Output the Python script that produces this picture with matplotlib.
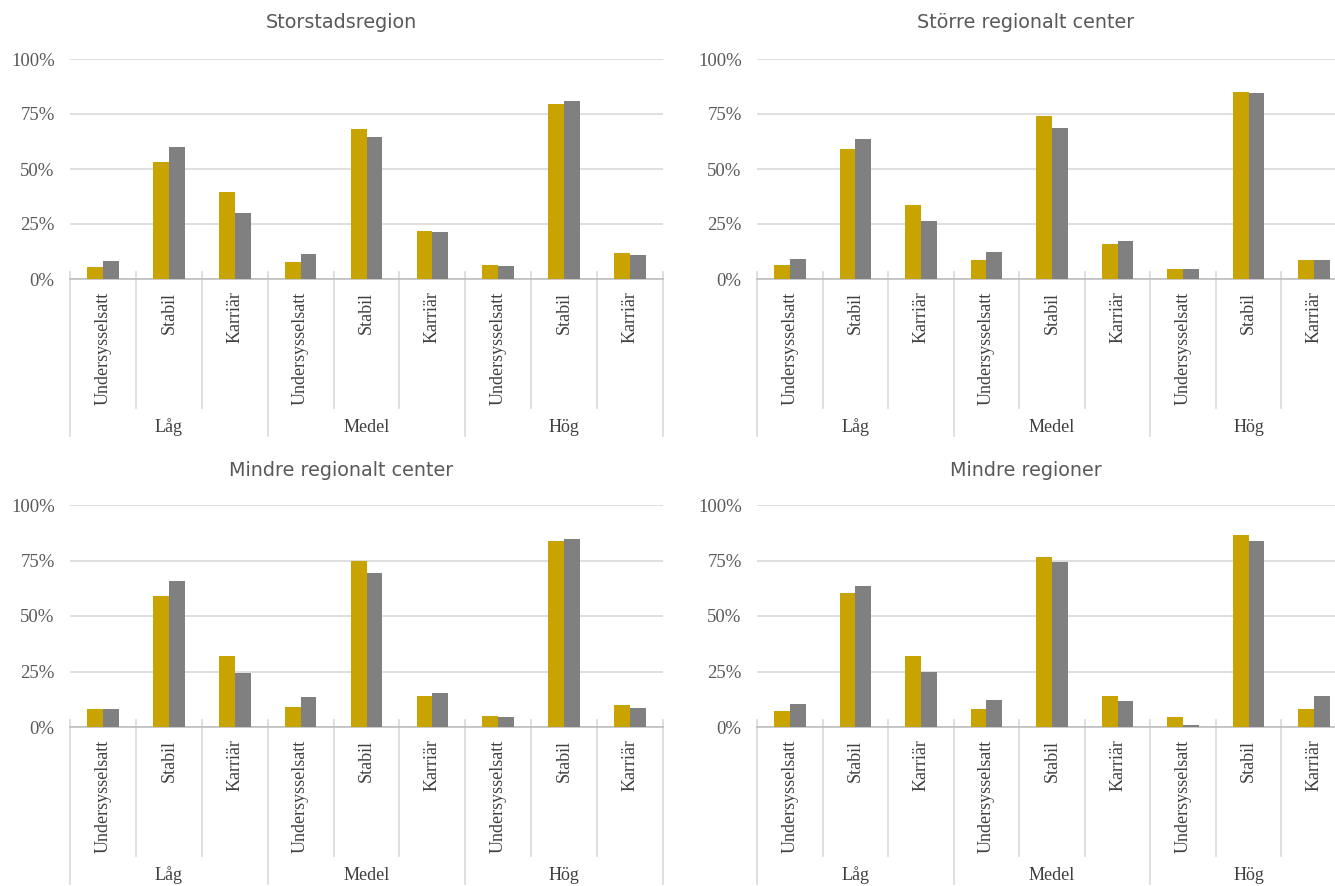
import matplotlib.pyplot as plt
import matplotlib.transforms as mtransforms
import numpy as np

# panel titles
regions = ["Storstadsregion", "Större regionalt center",
           "Mindre regionalt center", "Mindre regioner"]
levels = ["Låg", "Medel", "Hög"]
types = ["Undersysselsatt", "Stabil", "Karriär"]

# share per (level, type), two series per region
gold_vals = [
    [0.053, 0.53, 0.394, 0.076, 0.68, 0.22, 0.064, 0.797, 0.117],
    [0.063, 0.589, 0.337, 0.086, 0.739, 0.159, 0.045, 0.852, 0.086],
    [0.080, 0.588, 0.321, 0.092, 0.747, 0.140, 0.051, 0.837, 0.098],
    [0.071, 0.602, 0.319, 0.083, 0.765, 0.138, 0.045, 0.865, 0.080],
]
gray_vals = [
    [0.080, 0.60, 0.30, 0.115, 0.645, 0.215, 0.058, 0.81, 0.11],
    [0.089, 0.636, 0.264, 0.124, 0.687, 0.175, 0.045, 0.847, 0.086],
    [0.080, 0.656, 0.241, 0.136, 0.695, 0.154, 0.045, 0.849, 0.084],
    [0.105, 0.636, 0.247, 0.122, 0.743, 0.119, 0.011, 0.838, 0.138],
]

GOLD = "#C9A300"
GRAY = "#808080"
GRID = "#D9D9D9"
W, H = 1335, 886

fig = plt.figure(figsize=(W / 100, H / 100), dpi=100)

# pixel boxes: left, right, y of 0%, y of 100%, title centre x, title y
# (right-hand panels run past the figure edge)
boxes = [
    (70, 663, 279, 59, 341, 22),
    (757, 1347, 279, 59, 1026, 22),
    (70, 663, 727, 505, 341, 471),
    (757, 1347, 727, 505, 1026, 471),
]

serif = "Liberation Serif"
x = np.arange(9)
bw = 0.24

for k, (l, r, y0, y1, tx, ty) in enumerate(boxes):
    ax = fig.add_axes([l / W, 1 - y0 / H, (r - l) / W, (y0 - y1) / H])
    ax.bar(x - bw / 2, gold_vals[k], width=bw, color=GOLD, zorder=3)
    ax.bar(x + bw / 2, gray_vals[k], width=bw, color=GRAY, zorder=3)
    ax.set_xlim(-0.5, 8.5)
    ax.set_ylim(0, 1)
    ax.set_yticks([0, 0.25, 0.5, 0.75, 1.0])
    ax.set_yticklabels(["0%", "25%", "50%", "75%", "100%"],
                       family=serif, fontsize=13.5, color="#595959")
    ax.yaxis.grid(True, color=GRID, linewidth=1.2, zorder=0)
    ax.set_axisbelow(True)
    for s in ["top", "right", "left"]:
        ax.spines[s].set_visible(False)
    ax.spines["bottom"].set_color("#BFBFBF")
    ax.spines["bottom"].set_linewidth(1.2)
    ax.tick_params(axis="y", length=0, pad=11)
    ax.set_xticks(x)
    ax.set_xticklabels(types * 3, rotation=90, family=serif, fontsize=13,
                       color="#404040", va="top")
    ax.tick_params(axis="x", length=0, pad=9)

    # category separators below the axis (depths in pixels)
    trans = mtransforms.blended_transform_factory(ax.transData, ax.transAxes)
    px = 1 / (y0 - y1)
    for b in np.arange(-0.5, 9, 1):
        outer = (b + 0.5) % 3 == 0
        depth = -(157 if outer else 129) * px
        ax.plot([b, b], [0.03, depth], color=GRID, lw=1.2,
                transform=trans, clip_on=False)
    for i, lev in enumerate(levels):
        ax.text(3 * i + 1, -148 * px, lev, transform=trans,
                ha="center", va="center", family=serif, fontsize=13,
                color="#404040")

    fig.text(tx / W, 1 - ty / H, regions[k], ha="center", va="center",
             family="DejaVu Sans", fontsize=13.8, color="#595959")

fig.savefig("out.png", dpi=100)
